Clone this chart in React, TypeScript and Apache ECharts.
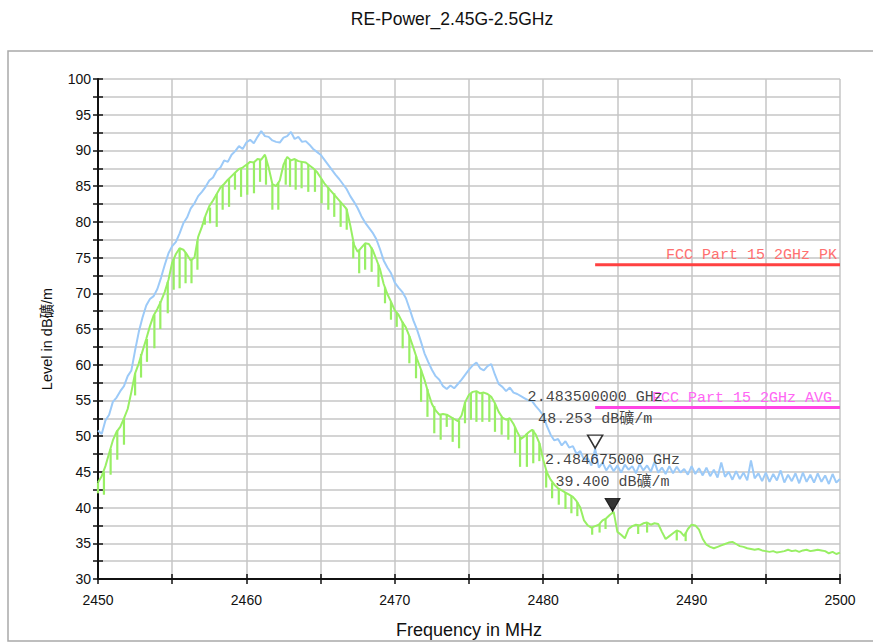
import React, { useEffect, useRef } from 'react';
import * as echarts from 'echarts';

// Frequency grid of the two traces (MHz)
const FREQ_START = 2450;
const FREQ_STEP = 0.25;

// Peak detector trace (blue), every 0.25 MHz from 2450 to 2500
const peakLevels = [
  50.8, 50.3, 52.2, 53.0,
  54.8, 55.4, 56.3, 57.0,
  58.4, 59.2, 62.0, 64.6,
  66.6, 68.3, 69.2, 69.6,
  70.6, 72.2, 74.0, 75.6,
  76.6, 77.2, 78.4, 79.8,
  80.6, 81.9, 82.6, 83.6,
  84.2, 84.9, 85.8, 86.2,
  87.2, 87.6, 88.6, 88.4,
  89.4, 89.9, 90.6, 90.2,
  91.1, 91.5, 91.0, 91.9,
  92.7, 92.0, 91.9, 91.4,
  91.2, 91.1, 91.8, 92.0,
  92.6, 91.6, 91.9, 91.2,
  91.3, 90.8, 90.2, 89.8,
  89.4, 88.7, 88.0, 87.3,
  86.6, 86.0, 85.3, 84.6,
  83.6, 82.8, 81.9, 80.8,
  79.9, 79.2, 78.5, 77.6,
  76.2, 74.6, 73.6, 72.8,
  71.5, 70.8, 70.2, 69.3,
  67.8, 66.2, 64.9, 63.3,
  61.6, 60.4, 59.3, 58.4,
  57.9, 57.0, 56.6, 57.1,
  56.7, 57.3, 57.9, 58.6,
  59.3, 59.9, 60.3, 59.5,
  59.2, 59.8, 60.1, 58.6,
  57.3, 56.9, 56.3, 56.8,
  56.1, 55.9, 55.6, 55.3,
  55.0, 54.9, 54.2, 53.6,
  52.9, 51.4, 50.2, 49.4,
  49.6, 48.7, 49.3, 48.4,
  48.6, 47.5, 47.9, 46.7,
  46.9, 45.9, 48.25, 45.6,
  46.3, 45.2, 46.0, 45.1,
  45.9, 44.9, 46.0, 45.3,
  45.8, 44.8, 46.1, 45.2,
  45.9, 45.0, 46.4, 44.9,
  45.6, 44.7, 45.8, 44.8,
  45.7, 44.9, 45.4, 44.6,
  45.8, 44.7, 45.5, 44.5,
  45.6, 44.4, 45.3, 44.2,
  46.3, 44.3, 45.0, 43.9,
  45.1, 44.0, 44.9, 43.8,
  46.6, 44.1, 44.8, 43.7,
  44.9, 43.6, 44.7, 43.8,
  45.2, 43.5, 44.6, 43.7,
  44.8, 43.4, 44.9, 43.6,
  44.6, 43.5, 44.8, 43.6,
  44.5, 43.3, 44.7, 43.5,
  44.0,
];

// Average detector trace (green), upper envelope, same frequency grid
const avgLevels = [
  43.5, 44.4, 45.8, 47.6,
  49.4, 50.6, 51.3, 52.5,
  53.8, 56.2, 58.8, 60.2,
  61.9, 63.6, 65.4, 66.9,
  67.8, 68.9, 70.2, 71.9,
  74.3, 75.5, 76.3, 76.1,
  75.4, 74.6, 75.0, 77.9,
  79.3, 80.9, 82.2, 83.0,
  83.9, 84.8, 85.3, 85.9,
  86.4, 86.9, 87.4, 87.6,
  88.0, 88.4, 88.3, 88.8,
  88.7, 89.4, 87.6, 85.3,
  85.0, 85.8, 88.0, 89.1,
  88.6, 88.8, 88.5, 88.4,
  88.3, 87.9, 87.5, 87.0,
  86.2, 85.4, 84.8, 84.2,
  83.6, 83.0, 82.4, 81.8,
  79.5, 76.8, 75.8, 76.4,
  77.0, 76.9, 76.1, 74.8,
  73.4, 71.3, 69.9, 68.8,
  67.6, 67.0, 66.0, 65.2,
  63.9, 62.4, 60.8, 59.4,
  57.9, 56.1, 54.5, 53.6,
  53.0, 53.1, 53.0, 52.7,
  52.4, 52.1, 52.9, 54.8,
  55.8, 56.2, 56.3, 56.0,
  56.1, 55.9, 55.5, 54.6,
  53.4, 52.6, 52.3, 52.5,
  51.7, 50.6, 49.6, 50.0,
  50.5, 50.9, 50.2, 49.0,
  46.7, 44.9, 43.9, 43.2,
  42.7, 42.4, 42.1, 41.8,
  41.5, 40.9, 40.0, 38.2,
  37.5, 37.2, 37.4, 37.6,
  38.2, 38.5, 39.0, 39.4,
  36.6, 36.2, 35.7, 37.0,
  37.4, 37.6, 37.5, 37.8,
  37.9, 37.6, 37.8, 37.7,
  36.6, 35.6, 36.0, 36.4,
  36.8, 36.6, 36.0, 37.0,
  37.6, 37.5, 36.9, 35.6,
  34.8, 34.5, 34.3, 34.5,
  34.7, 34.9, 35.1, 35.2,
  34.9, 34.6, 34.5, 34.3,
  34.2, 34.1, 34.2, 34.0,
  33.9, 33.8, 33.9, 33.7,
  33.8, 33.9, 34.1, 33.9,
  34.0, 33.8, 34.0, 34.1,
  33.9, 34.0, 34.1, 34.0,
  33.9, 33.6, 33.8, 33.5,
  33.7,
];

// Narrow downward spikes of the average trace: [MHz, top level, bottom level]
const avgDips = [
  [2450.0, 43.5, 42.0], [2450.4, 45.0, 41.8], [2450.85, 48.2, 44.6], [2451.3, 50.8, 46.7],
  [2451.75, 52.5, 48.8], [2452.5, 58.8, 55.7], [2452.9, 61.5, 58.2], [2453.3, 63.6, 60.4],
  [2453.8, 67.0, 62.3], [2454.2, 68.9, 65.0], [2454.7, 71.6, 67.2], [2455.1, 74.8, 70.5],
  [2455.5, 76.3, 70.7], [2455.9, 75.7, 71.4], [2456.3, 74.7, 71.4], [2456.7, 77.3, 73.3],
  [2457.2, 80.7, 79.6], [2457.55, 82.0, 79.8], [2458.0, 83.9, 79.3], [2458.4, 85.1, 81.7],
  [2458.83, 86.0, 82.1], [2459.23, 86.9, 84.5], [2459.64, 87.5, 83.5], [2460.06, 88.1, 83.8],
  [2460.51, 88.4, 84.0], [2460.92, 88.8, 85.6], [2461.32, 89.0, 85.2], [2461.75, 85.3, 81.7],
  [2462.15, 85.5, 81.7], [2462.65, 88.8, 85.2], [2462.94, 88.7, 84.9], [2463.32, 88.7, 84.5],
  [2463.72, 88.4, 84.7], [2464.17, 88.0, 84.2], [2464.62, 87.3, 84.2], [2465.07, 86.0, 82.6],
  [2465.52, 84.8, 81.7], [2465.92, 84.0, 80.7], [2466.35, 82.8, 79.3], [2466.76, 81.8, 78.9],
  [2467.2, 77.2, 74.9], [2467.6, 76.1, 72.8], [2468.0, 77.0, 73.3], [2468.44, 76.4, 73.0],
  [2468.9, 74.0, 70.9], [2469.34, 70.9, 68.6], [2469.74, 68.8, 66.3], [2470.13, 67.3, 65.3],
  [2470.53, 66.0, 62.3], [2470.98, 64.0, 60.2], [2471.43, 61.2, 58.1], [2471.77, 59.3, 54.8],
  [2472.2, 56.6, 52.7], [2472.66, 54.2, 50.4], [2473.09, 53.0, 49.5], [2473.5, 53.0, 51.3],
  [2473.9, 52.6, 49.2], [2474.33, 52.2, 48.3], [2474.73, 54.8, 51.8], [2475.13, 56.0, 52.3],
  [2475.5, 56.3, 52.0], [2475.9, 56.0, 52.0], [2476.37, 55.7, 52.0], [2476.75, 54.6, 50.6],
  [2477.2, 52.7, 50.2], [2477.65, 52.4, 49.5], [2478.1, 51.3, 47.6], [2478.44, 49.8, 45.7],
  [2478.9, 50.4, 45.7], [2479.33, 50.9, 46.2], [2479.74, 49.0, 46.5], [2480.2, 45.2, 42.8],
  [2480.6, 43.5, 41.3], [2481.05, 42.6, 40.4], [2481.5, 42.1, 39.8], [2481.9, 41.6, 39.2],
  [2482.3, 40.8, 38.8], [2483.3, 37.2, 36.2], [2483.8, 37.7, 36.5], [2484.2, 38.4, 37.0],
  [2486.4, 37.6, 36.3], [2487.0, 37.9, 36.5], [2489.0, 36.8, 35.4], [2489.6, 36.5, 35.3],
];

// Limit lines
const limitFreqs = [2483.5, 2500];
const pkLimitLevel = 74;
const avgLimitLevel = 54;
const pkLimitName = 'FCC Part 15 2GHz PK';
const avgLimitName = 'FCC Part 15 2GHz AVG';

// Markers
const markerFreqs = [2483.5, 2484.675];
const markerLevels = [48.253, 39.4];
const markerFreqTexts = ['2.483500000 GHz', '2.484675000 GHz'];
const markerLevelTexts = ['48.253 dB礦/m', '39.400 dB礦/m'];

// Axes
const X_MIN = 2450, X_MAX = 2500, X_STEP = 5, X_LABEL_STEP = 10;
const Y_MIN = 30, Y_MAX = 100, Y_STEP = 2.5, Y_LABEL_STEP = 5;

const TITLE = 'RE-Power_2.45G-2.5GHz';
const X_NAME = 'Frequency in MHz';
const Y_NAME = 'Level in dB礦/m';

const SANS = "'Liberation Sans', Arial, 'Noto Sans CJK SC', sans-serif";
const MONO = "'Liberation Mono', 'Noto Sans CJK SC', monospace";
const BLUE = '#9ccaf8';
const GREEN = '#98ef64';

export default function App() {
  const ref = useRef<HTMLDivElement>(null);

  useEffect(() => {
    if (!ref.current) return;
    const chart = echarts.init(ref.current, null, { renderer: 'svg' });

    const peakData = peakLevels.map((v, i) => [FREQ_START + i * FREQ_STEP, v]);
    const avgData = avgLevels.map((v, i) => [FREQ_START + i * FREQ_STEP, v]);

    const limitSeries = (level: number, name: string, lineColor: string, textColor: string, dx: number) => ({
      type: 'line',
      name,
      data: limitFreqs.map((f, i) =>
        i === limitFreqs.length - 1
          ? {
              value: [f, level],
              label: {
                show: true,
                position: 'top',
                align: 'right',
                distance: 2,
                offset: [dx, 0],
                formatter: name,
                color: textColor,
                fontFamily: MONO,
                fontSize: 15,
                lineHeight: 15,
              },
            }
          : { value: [f, level] }
      ),
      symbol: 'circle',
      symbolSize: 0,
      showSymbol: true,
      lineStyle: { color: lineColor, width: 3 },
      itemStyle: { color: lineColor },
      z: 5,
      silent: true,
    });

    const option: any = {
      animation: false,
      backgroundColor: '#ffffff',
      title: {
        text: TITLE,
        left: 447,
        top: 5,
        textAlign: 'center',
        textStyle: { fontFamily: SANS, fontSize: 17.5, fontWeight: 'normal', color: '#111' },
      },
      graphic: [
        {
          type: 'rect',
          shape: { x: 8, y: 51, width: 880, height: 590 },
          style: { fill: 'none', stroke: '#a9a9a9', lineWidth: 1.5 },
          silent: true,
          z: -10,
        },
      ],
      grid: {
        left: 98,
        right: 33,
        top: 79,
        bottom: 65,
        containLabel: false,
        outerBoundsMode: 'none',
      },
      xAxis: [
        {
          type: 'value',
          min: X_MIN,
          max: X_MAX,
          interval: X_STEP,
          name: X_NAME,
          nameLocation: 'middle',
          nameGap: 42,
          nameTextStyle: { fontFamily: SANS, fontSize: 18, color: '#111' },
          axisLine: { lineStyle: { color: '#111', width: 2 } },
          axisTick: { show: true, length: 5, lineStyle: { color: '#111', width: 1.5 } },
          axisLabel: {
            margin: 14,
            fontFamily: SANS,
            fontSize: 14,
            color: '#111',
            formatter: (v: number) => (v % X_LABEL_STEP === 0 ? String(v) : ''),
          },
          splitLine: { show: true, lineStyle: { color: '#c6c6c6', width: 1.5 } },
        },
        {
          type: 'value',
          min: X_MIN,
          max: X_MAX,
          interval: X_STEP,
          position: 'top',
          offset: -500,
          axisLine: { show: false },
          axisTick: { show: true, length: 5, lineStyle: { color: '#111', width: 1.5 } },
          axisLabel: { show: false },
          splitLine: { show: false },
        },
      ],
      yAxis: [
        {
          type: 'value',
          min: Y_MIN,
          max: Y_MAX,
          interval: Y_STEP,
          name: Y_NAME,
          nameLocation: 'middle',
          nameGap: 44,
          nameRotate: 90,
          nameTextStyle: { fontFamily: SANS, fontSize: 14.5, color: '#111', padding: [0, 20, 0, 0] },
          axisLine: { show: true, lineStyle: { color: '#111', width: 2 } },
          axisTick: { show: true, length: 5, lineStyle: { color: '#111', width: 1.5 } },
          axisLabel: {
            margin: 7,
            fontFamily: SANS,
            fontSize: 14,
            color: '#111',
            formatter: (v: number) => (v % Y_LABEL_STEP === 0 ? String(v) : ''),
          },
          splitLine: { show: true, lineStyle: { color: '#c6c6c6', width: 1.5 } },
        },
        {
          type: 'value',
          min: Y_MIN,
          max: Y_MAX,
          interval: Y_STEP,
          position: 'right',
          offset: -742,
          axisLine: { show: false },
          axisTick: { show: true, length: 5, lineStyle: { color: '#111', width: 1.5 } },
          axisLabel: { show: false },
          splitLine: { show: false },
        },
      ],
      series: [
        {
          type: 'line',
          name: 'Peak',
          data: peakData,
          showSymbol: false,
          symbol: 'none',
          lineStyle: { color: BLUE, width: 2 },
          z: 2,
          silent: true,
        },
        {
          type: 'line',
          name: 'Average',
          data: avgData,
          showSymbol: false,
          symbol: 'none',
          lineStyle: { color: GREEN, width: 2 },
          z: 3,
          silent: true,
        },
        {
          type: 'custom',
          name: 'Average dips',
          data: avgDips,
          encode: { x: 0, y: [1, 2] },
          renderItem: (_params: any, api: any) => {
            const f = api.value(0);
            const p1 = api.coord([f, api.value(1)]);
            const p2 = api.coord([f, api.value(2)]);
            return {
              type: 'line',
              shape: { x1: p1[0], y1: p1[1], x2: p2[0], y2: p2[1] },
              style: { stroke: GREEN, lineWidth: 2.2 },
            };
          },
          z: 3,
          silent: true,
        },
        limitSeries(pkLimitLevel, pkLimitName, '#ff4141', '#ff7070', -3),
        limitSeries(avgLimitLevel, avgLimitName, '#ff44e4', '#ff66f4', -8),
        {
          type: 'scatter',
          name: 'Markers',
          symbol: 'path://M0,0 L14,0 L7,12 Z',
          symbolSize: [15, 13],
          symbolOffset: [0, -7],
          data: markerFreqs.map((f, i) => ({
            value: [f, markerLevels[i]],
            itemStyle:
              i === 0
                ? { color: '#ffffff', borderColor: '#000000', borderWidth: 1.5 }
                : { color: '#000000', borderColor: '#000000', borderWidth: 1 },
            label: {
              show: true,
              position: 'top',
              distance: 4,
              align: 'center',
              formatter: markerFreqTexts[i] + '\n' + markerLevelTexts[i],
              fontFamily: MONO,
              fontSize: 15,
              lineHeight: 22,
              color: '#111',
            },
          })),
          z: 6,
          silent: true,
        },
      ],
    };

    chart.setOption(option);
    return () => chart.dispose();
  }, []);

  return (
    <div
      ref={ref}
      style={{ position: 'fixed', left: 0, top: 0, width: 873, height: 644, background: '#fff' }}
    />
  );
}
